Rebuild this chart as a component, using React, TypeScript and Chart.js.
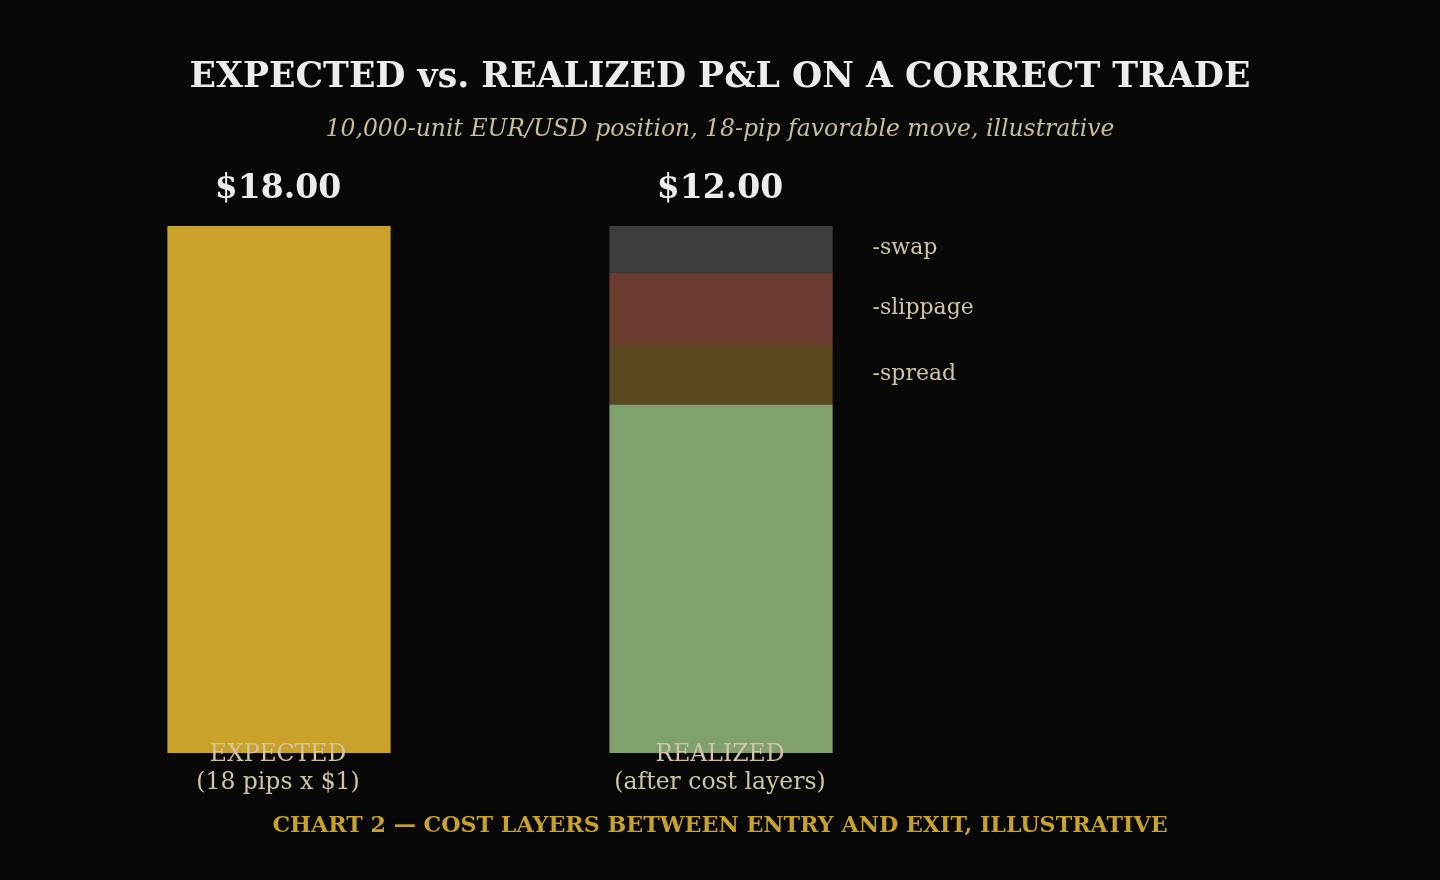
import React, { useEffect, useRef } from "react";
import { Chart, registerables } from "chart.js";

Chart.register(...registerables);

const categories = [["EXPECTED", "(18 pips x $1)"], ["REALIZED", "(after cost layers)"], ["", ""]];
const baseValues = [18, 11.9, null];
const spreadValues = [null, 2.0, null];
const slippageValues = [null, 2.5, null];
const swapValues = [null, 1.6, null];
const layerNames = ["-spread", "-slippage", "-swap"];
const totalLabels = ["$18.00", "$12.00"];

const BG = "#080808";
const SERIF = "'DejaVu Serif', serif";

export default function App() {
  const ref = useRef<HTMLCanvasElement | null>(null);
  useEffect(() => {
    document.body.style.margin = "0";
    document.body.style.background = BG;
    const canvas = ref.current!;
    const overlay = {
      id: "overlay",
      beforeDraw(chart: any) {
        const c = chart.ctx;
        c.save();
        c.fillStyle = BG;
        c.fillRect(0, 0, chart.width, chart.height);
        c.restore();
      },
      afterDatasetsDraw(chart: any) {
        const c = chart.ctx;
        const xs = chart.scales.x;
        const ys = chart.scales.y;
        c.save();
        c.textAlign = "center";
        c.textBaseline = "middle";
        c.fillStyle = "#ececec";
        c.font = `bold 34.7px ${SERIF}`;
        c.fillText("EXPECTED vs. REALIZED P&L ON A CORRECT TRADE", chart.width / 2, 78);
        c.fillStyle = "#cbbd98";
        c.font = `italic 23.5px ${SERIF}`;
        c.fillText("10,000-unit EUR/USD position, 18-pip favorable move, illustrative", chart.width / 2, 130);
        c.fillStyle = "#c8a22a";
        c.font = `bold 22.2px ${SERIF}`;
        c.fillText("CHART 2 \u2014 COST LAYERS BETWEEN ENTRY AND EXIT, ILLUSTRATIVE", chart.width / 2, 826);

        // totals above bars
        const sets = chart.data.datasets;
        totalLabels.forEach((lab, i) => {
          let sum = 0;
          sets.forEach((d: any) => { sum += d.data[i] || 0; });
          const x = xs.getPixelForValue(i) - 1;
          const y = ys.getPixelForValue(sum);
          c.fillStyle = "#ececec";
          c.font = `bold 33px ${SERIF}`;
          c.fillText(lab, x, y - 37);
        });

        // category labels
        c.fillStyle = "#d0c4a4";
        c.font = `23.5px ${SERIF}`;
        categories.forEach((lines, i) => {
          const x = xs.getPixelForValue(i) - 1;
          lines.forEach((ln, k) => c.fillText(ln, x, ys.getPixelForValue(0) + 2 + k * 28));
        });

        // layer labels
        const meta = chart.getDatasetMeta(1);
        const bar = meta.data[1];
        const right = bar.x + bar.width / 2;
        c.textAlign = "left";
        c.font = `22px ${SERIF}`;
        c.fillStyle = "#d0c4a4";
        [1, 2, 3].forEach((di, k) => {
          const el = chart.getDatasetMeta(di).data[1];
          c.fillText(layerNames[k], right + 40, (el.y + el.base) / 2 - 1);
        });
        c.restore();
      },
    };
    const common = { categoryPercentage: 1, barPercentage: 0.505, borderWidth: 0, stack: "s" };
    const chart = new Chart(canvas, {
      type: "bar",
      data: {
        labels: categories.map((c) => c.join(" ")),
        datasets: [
          { label: "base", data: baseValues, backgroundColor: ["#c8a22a", "#80a16c", "#000"], ...common },
          { label: "spread", data: spreadValues, backgroundColor: "#5a491e", ...common },
          { label: "slippage", data: slippageValues, backgroundColor: "#6b3c2f", ...common },
          { label: "swap", data: swapValues, backgroundColor: "#3d3d3d", ...common },
        ],
      },
      options: {
        animation: false,
        responsive: false,
        layout: { padding: { left: 58, right: 56, top: 226, bottom: 127 } },
        plugins: { legend: { display: false }, title: { display: false }, tooltip: { enabled: false } },
        scales: {
          x: { display: false, stacked: true },
          y: { display: false, stacked: true, min: 0, max: 18 },
        },
      },
      plugins: [overlay],
    });
    return () => chart.destroy();
  }, []);
  return (
    <div style={{ width: 1440, height: 880, background: BG }}>
      <canvas ref={ref} width={1440} height={880} style={{ display: "block" }} />
    </div>
  );
}
